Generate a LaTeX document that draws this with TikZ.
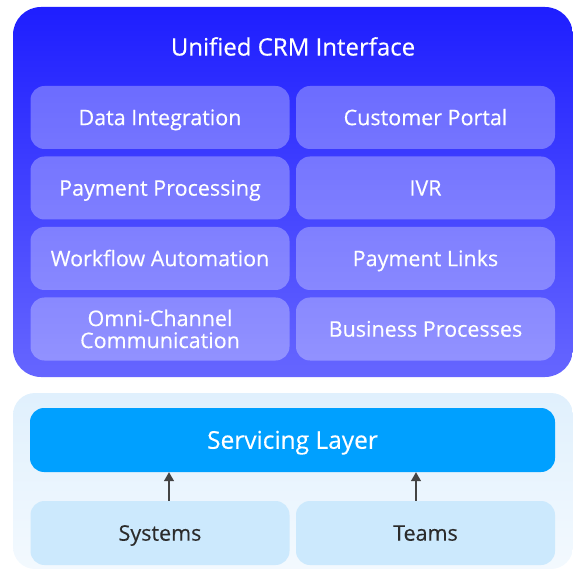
\documentclass[tikz,border=0pt]{standalone}
\usepackage{fontspec}
\setmainfont{Open Sans}[UprightFeatures={FakeBold=0.3}]
\usetikzlibrary{arrows.meta}
\definecolor{paneltop}{HTML}{1E1EFF}
\definecolor{panelbot}{HTML}{6666FF}
\definecolor{lighttop}{HTML}{E0F0FD}
\definecolor{lightbot}{HTML}{F3F9FE}
\definecolor{servblue}{HTML}{00A0FF}
\definecolor{basebox}{HTML}{CCE9FD}
\definecolor{darktext}{HTML}{2B2B2B}
\definecolor{arrowgray}{HTML}{444444}
\tikzset{
  panel/.style={inner sep=0pt, rounded corners=28pt, top color=paneltop, bottom color=panelbot, minimum width=560pt, minimum height=370pt},
  lightpanel/.style={inner sep=0pt, rounded corners=22pt, top color=lighttop, bottom color=lightbot, minimum width=560pt, minimum height=176pt},
  featbox/.style={inner sep=0pt, rounded corners=14pt, fill=white, fill opacity=0.3, text opacity=1, text=white, minimum width=259pt, minimum height=63pt, font=\fontsize{21.5}{22}\selectfont, align=center, text height=15.35pt, text depth=0pt},
  twoline/.style={text height=, text depth=},
  servbox/.style={inner sep=0pt, rounded corners=14pt, fill=servblue, text=white, minimum width=525pt, minimum height=64pt, font=\fontsize{24.5}{26}\selectfont, text height=17.5pt, text depth=0pt},
  basenode/.style={inner sep=0pt, rounded corners=14pt, fill=basebox, text=darktext, minimum width=259pt, minimum height=64pt, font=\fontsize{21.5}{22}\selectfont, text height=15.35pt, text depth=0pt},
  titletext/.style={inner sep=0pt, text=white, font=\fontsize{24}{26}\selectfont, text height=17.1pt, text depth=0pt},
  arr/.style={draw=arrowgray, line width=1.2pt, -{Triangle[length=9pt,width=10pt]}}
}
\begin{document}
\begin{tikzpicture}[x=1pt,y=-1pt]
\useasboundingbox (0,0) rectangle (573,569);
\node[panel] (crm) at (293,192) {};
\node[titletext] (title) at (293,47) {Unified CRM Interface};
\node[featbox] (data) at (160,117.5) {Data Integration};
\node[featbox] (portal) at (425.5,117.5) {Customer Portal};
\node[featbox] (pay) at (160,188) {Payment Processing};
\node[featbox] (ivr) at (425.5,188) {IVR};
\node[featbox] (flow) at (160,258.5) {Workflow Automation};
\node[featbox] (links) at (425.5,258.5) {Payment Links};
\node[featbox, twoline] (omni) at (160,329) {Omni-Channel\\Communication};
\node[featbox] (biz) at (425.5,329) {Business Processes};
\node[lightpanel] (base) at (293,481) {};
\node[servbox] (serv) at (292.5,440) {Servicing Layer};
\node[basenode] (sys) at (160,533) {Systems};
\node[basenode] (teams) at (425.5,533) {Teams};
\draw[arr] ([xshift=9pt]sys.north) -- ([xshift=9pt]sys.north |- serv.south);
\draw[arr] ([xshift=-9.5pt]teams.north) -- ([xshift=-9.5pt]teams.north |- serv.south);
\end{tikzpicture}
\end{document}
